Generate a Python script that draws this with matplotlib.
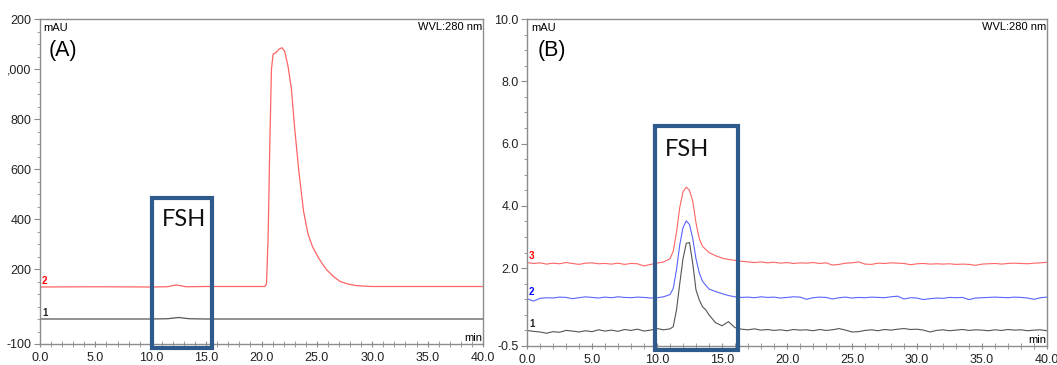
import numpy as np
import matplotlib.pyplot as plt
from matplotlib.patches import Rectangle
from matplotlib.ticker import MultipleLocator, FixedLocator

plt.rcParams['font.family'] = ['Liberation Sans', 'DejaVu Sans']

RED = '#ff6464'
BLUE = '#5a64ff'
GREY = '#555555'
BOX = '#2f5a8c'

# ---- panel A (mAU) ----
t_a1 = [0, 5, 10, 11.5, 12.5, 13.5, 15, 20, 30, 40]
a1 = [0, 0, 0, 1, 6, 1, 0, 0, 0, 0]

t_a2 = [0, 5, 10, 11.5, 12.3, 13.2, 15, 20, 20.3, 20.45, 20.6, 20.75, 20.9,
        21.05, 21.3, 21.6, 21.85, 22.1, 22.4, 22.7, 23.0, 23.4, 23.8, 24.2,
        24.6, 25.1, 25.5, 25.9, 26.5, 27.1, 27.8, 28.5, 29.5, 30, 35, 40]
a2 = [128, 129, 128, 129, 136, 129, 130, 130, 130, 140, 330, 700, 1000,
      1060, 1065, 1080, 1085, 1070, 1010, 920, 760, 580, 430, 340,
      290, 248, 220, 196, 170, 150, 140, 134, 131, 130, 130, 130]

a_yticks = [-100, 200, 400, 600, 800, 1000, 1200]
a_ylabels = ['-100', '200', '400', '600', '800', ',000', '200']

# ---- panel B (mAU) ----
t_b = np.concatenate([np.arange(0, 11, 0.5), np.arange(11, 14.01, 0.25),
                      np.arange(14.5, 40.01, 0.5)])

b1 = [0.00, -0.03, -0.05, -0.09, -0.04, -0.06, 0.00, -0.02, -0.05, -0.01, -0.04,
      0.02, -0.02, 0.01, -0.03, 0.03, 0.00, 0.04, -0.02, 0.01, 0.06, 0.02,
      0.05, 0.12, 0.66, 1.5, 2.3, 2.8, 2.82, 2.15, 1.3, 0.98, 0.76, 0.66, 0.5,
      0.25, 0.15, 0.28, 0.09,
      0.04, 0.02, 0.05, 0.01, 0.03, 0.0, 0.02, -0.01, 0.03, 0.01,
      0.02, -0.01, 0.03, 0.0, 0.02, 0.06, 0.01, -0.05, -0.04, 0.0,
      0.02, -0.01, 0.03, 0.01, 0.04, 0.06, 0.03, 0.04, 0.01, -0.05,
      0.0, 0.02, -0.01, 0.01, 0.03, 0.0, 0.02, 0.01, -0.01, 0.02,
      0.0, 0.03, 0.01, 0.02, -0.01, 0.01, 0.02, -0.01]

b2 = [1.02, 0.94, 1.03, 1.05, 1.04, 1.07, 1.06, 1.02, 1.05, 1.08, 1.06,
      1.04, 1.07, 1.05, 1.08, 1.06, 1.05, 1.07, 1.06, 1.04, 1.05, 1.08,
      1.15, 1.35, 1.95, 2.75, 3.3, 3.52, 3.4, 2.95, 2.3, 1.85, 1.58, 1.45, 1.33,
      1.25, 1.18, 1.12, 1.08,
      1.06, 1.07, 1.05, 1.08, 1.06, 1.07, 1.04, 1.06, 1.08, 1.07,
      1.0, 1.05, 1.07, 1.06, 1.01, 1.05, 1.07, 1.04, 1.06, 1.05,
      1.07, 1.06, 1.05, 1.08, 1.1, 1.01, 1.05, 1.04, 0.99, 1.02,
      1.04, 1.03, 1.06, 1.05, 1.06, 0.99, 1.04, 1.05, 1.06, 1.07,
      1.06, 1.05, 1.07, 1.06, 1.04, 1.0, 1.05, 1.07]

b3 = [2.18, 2.15, 2.17, 2.13, 2.16, 2.14, 2.18, 2.15, 2.12, 2.16, 2.17,
      2.14, 2.15, 2.13, 2.16, 2.12, 2.15, 2.14, 2.07, 2.12, 2.16, 2.20,
      2.3, 2.55, 3.15, 3.95, 4.45, 4.6, 4.5, 4.15, 3.45, 2.95, 2.7, 2.6, 2.5,
      2.4, 2.32, 2.28, 2.25,
      2.22, 2.2, 2.18, 2.2, 2.17, 2.19, 2.16, 2.18, 2.15, 2.17,
      2.16, 2.18, 2.15, 2.17, 2.1, 2.12, 2.16, 2.17, 2.2, 2.13,
      2.12, 2.16, 2.15, 2.17, 2.16, 2.15, 2.11, 2.14, 2.15, 2.13,
      2.14, 2.13, 2.14, 2.12, 2.13, 2.12, 2.09, 2.13, 2.14, 2.15,
      2.13, 2.15, 2.16, 2.15, 2.14, 2.16, 2.17, 2.19]

b_yticks = [-0.5, 2.0, 4.0, 6.0, 8.0, 10.0]
b_ylabels = ['-0.5', '2.0', '4.0', '6.0', '8.0', '10.0']


def style(ax, panel):
    for s in ax.spines.values():
        s.set_color('#8c8c8c')
        s.set_linewidth(1)
    ax.set_xlim(0, 40)
    ax.xaxis.set_major_locator(MultipleLocator(5))
    ax.xaxis.set_minor_locator(MultipleLocator(1))
    ax.xaxis.set_major_formatter('{x:.1f}')
    ax.tick_params(which='both', colors='#8c8c8c', labelcolor='#222222', labelsize=9)
    ax.tick_params(axis='y', which='major', direction='out', length=4, pad=2)
    ax.tick_params(axis='y', which='minor', direction='out', length=2)
    ax.tick_params(axis='x', which='major', direction='inout', length=5, pad=3)
    ax.tick_params(axis='x', which='minor', direction='inout', length=4)
    ax.text(0.008, 0.988, 'mAU', transform=ax.transAxes, fontsize=8, va='top', ha='left')
    ax.text(0.998, 0.99, 'WVL:280 nm', transform=ax.transAxes, fontsize=8,
            va='top', ha='right')
    ax.text(0.998, 0.004, 'min', transform=ax.transAxes, fontsize=8,
            va='bottom', ha='right')
    ax.text(0.02, 0.935, panel, transform=ax.transAxes, fontsize=15.5, va='top', ha='left')


def tag(ax, label, y, color):
    ax.annotate(label, xy=(0, y), xytext=(1.5, 1), textcoords='offset points',
                fontsize=7, fontweight='bold', color=color, va='bottom', ha='left')


fig = plt.figure(figsize=(10.57, 3.65), dpi=100)
axA = fig.add_axes([40 / 1057, 21 / 365, 443 / 1057, 325 / 365])
axB = fig.add_axes([527 / 1057, 19 / 365, 520 / 1057, 327 / 365])

# panel A
axA.plot(t_a1, a1, color=GREY, lw=0.9)
axA.plot(t_a2, a2, color=RED, lw=0.9)
axA.set_ylim(-100, 1200)
axA.yaxis.set_major_locator(FixedLocator(a_yticks))
axA.set_yticklabels(a_ylabels)
axA.yaxis.set_minor_locator(MultipleLocator(50))
style(axA, '(A)')
tag(axA, '1', a1[0], '#222222')
tag(axA, '2', a2[0], 'red')
axA.add_patch(Rectangle((10.1, -116), 5.4, 600, fill=False, edgecolor=BOX,
                        lw=3, clip_on=False, zorder=5))
axA.text(13.0, 396, 'FSH', family=['Lato', 'DejaVu Sans'], fontsize=17,
         ha='center', va='center', color='#111111')

# panel B
axB.plot(t_b, b1, color=GREY, lw=0.8)
axB.plot(t_b, b2, color=BLUE, lw=0.8)
axB.plot(t_b, b3, color=RED, lw=0.8)
axB.set_ylim(-0.5, 10.0)
axB.yaxis.set_major_locator(FixedLocator(b_yticks))
axB.set_yticklabels(b_ylabels)
axB.yaxis.set_minor_locator(MultipleLocator(0.5))
style(axB, '(B)')
tag(axB, '1', b1[0], '#222222')
tag(axB, '2', b2[0], 'blue')
tag(axB, '3', b3[0], 'red')
axB.add_patch(Rectangle((9.86, -0.62), 6.4, 7.18, fill=False, edgecolor=BOX,
                        lw=3, clip_on=False, zorder=5))
axB.text(12.33, 5.8, 'FSH', family=['Lato', 'DejaVu Sans'], fontsize=17,
         ha='center', va='center', color='#111111')

fig.savefig('out.png', dpi=100)
